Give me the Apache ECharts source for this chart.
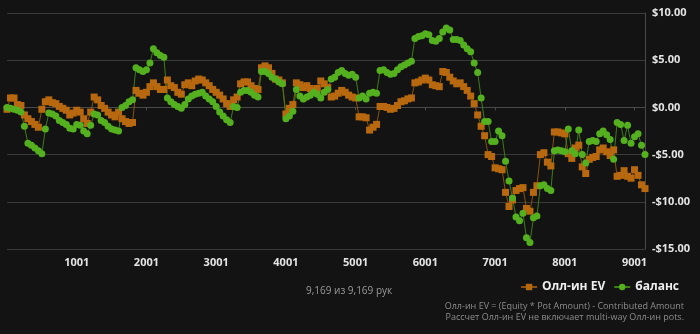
<!DOCTYPE html>
<html>
<head>
<meta charset="utf-8">
<script src="https://cdn.jsdelivr.net/npm/echarts@6/dist/echarts.min.js"></script>
<style>
  html, body { margin: 0; padding: 0; background: #131313; }
  #chart { width: 700px; height: 334px; }
</style>
</head>
<body>
<div id="chart"></div>
<script>
// Hands are sampled every 50 hands, starting at hand 1
const HAND_STEP = 50;
const TOTAL_HANDS = 9169;

// All-in adjusted EV, dollars
const allInEv = [
  -0.2, 1.0, 1.0, 0.3, 0.2, -0.8, -1.2, -1.5, -1.8, -2.1,
  -0.2, 0.6, 0.8, 0.5, 0.4, 0.1, -0.1, -0.3, -0.8, -0.6,
  -0.3, -0.5, -1.2, -1.7, -0.5, 1.1, 0.8, 0.2, -0.1, -0.5,
  -0.8, -1.0, -0.5, -1.2, -1.5, -1.7, -1.6, 1.8, 1.5, 1.3,
  1.6, 2.2, 2.6, 2.2, 1.9, 1.9, 2.9, 2.3, 2.1, 1.6,
  1.4, 2.4, 2.6, 2.3, 2.8, 3.0, 2.9, 2.6, 2.3, 1.9,
  1.6, 1.3, 0.9, 0.4, 0.1, 0.8, 1.1, 2.5, 2.7, 2.7,
  2.3, 2.0, 1.9, 4.2, 4.4, 4.2, 3.6, 3.0, 2.9, 2.6,
  -0.7, -0.1, 0.3, 2.6, 2.4, 2.1, 2.3, 2.0, 1.8, 2.0,
  2.8, 2.5, 2.1, 1.1, 1.2, 1.5, 1.8, 1.6, 1.3, 1.1,
  1.0, -1.0, -1.0, -1.1, -2.4, -2.1, -1.8, 0.1, 0.1, 0.0,
  -0.2, -0.1, 0.2, 0.6, 0.7, 0.9, 1.0, 2.6, 2.7, 2.9,
  3.1, 2.9, 2.4, 2.3, 2.2, 3.8, 3.7, 3.2, 2.8, 2.5,
  2.6, 2.2, 1.8, 1.2, 0.4, -0.8, -2.0, -3.0, -5.0, -5.2,
  -6.4, -6.5, -6.6, -9.0, -10.5, -9.8, -8.8, -8.6, -8.5, -10.7,
  -11.0, -9.0, -8.3, -5.0, -4.8, -5.8, -6.2, -2.6, -2.6, -2.7,
  -2.8, -4.9, -5.4, -4.3, -4.0, -6.3, -7.0, -5.5, -5.3, -5.2,
  -4.5, -4.3, -4.7, -5.1, -4.5, -7.3, -7.2, -6.7, -7.3, -7.5,
  -6.6, -7.2, -8.2, -8.6
];

// Actual balance, dollars
const balance = [
  0.0, -0.1, -0.2, -0.3, -0.5, -2.0, -3.8, -4.0, -4.3, -4.6,
  -4.9, -2.3, -0.6, -0.7, -0.9, -1.4, -1.6, -1.8, -2.2, -2.3,
  -1.8, -1.9, -2.5, -2.8, -1.9, -0.7, -0.8, -1.4, -1.6, -2.0,
  -2.3, -2.4, -2.5, 0.0, 0.2, 0.6, 0.8, 4.2, 4.0, 3.8,
  4.0, 4.7, 6.2, 5.8, 5.5, 5.3, 1.0, 0.6, 0.3, 0.1,
  -0.1, 0.3, 0.9, 1.2, 1.4, 1.5, 1.6, 1.2, 0.9, 0.6,
  0.1, -0.5, -0.9, -1.3, -1.6, 0.1, 0.0, 1.6, 1.8, 1.8,
  1.6, 1.3, 1.1, 3.8, 3.8, 3.6, 3.2, 3.0, 2.7, 2.5,
  -1.2, -0.9, -0.4, 1.9, 1.2, 0.9, 1.1, 1.3, 1.6, 1.4,
  1.0, 1.6, 1.9, 3.0, 3.2, 3.7, 3.9, 3.6, 3.4, 3.5,
  3.2, 1.0, 1.2, 0.9, 1.5, 1.6, 1.5, 3.9, 4.0, 3.7,
  3.5, 3.6, 4.0, 4.3, 4.5, 4.7, 4.9, 7.3, 7.5, 7.6,
  7.8, 7.7, 7.1, 7.0, 7.3, 8.0, 8.4, 8.2, 7.2, 7.2,
  7.1, 6.6, 6.2, 5.9, 4.7, 3.7, 1.0, -1.5, -1.5, -3.6,
  -3.6, -2.5, -3.0, -5.7, -7.8, -9.6, -11.6, -12.0, -11.2, -13.8,
  -14.3, -11.7, -11.5, -8.3, -8.2, -8.6, -8.8, -4.6, -4.5, -4.6,
  -4.7, -2.3, -4.6, -4.9, -2.4, -5.0, -5.9, -3.6, -3.5, -3.6,
  -2.8, -2.5, -2.9, -3.4, -5.5, -1.6, -1.8, -3.5, -1.9, -3.8,
  -3.1, -2.8, -4.0, -5.0
];

// Hand numbers for each sample (x categories)
const hands = allInEv.map((_, i) => 1 + i * HAND_STEP);

// Y axis range and step, dollars
const yMin = -15, yMax = 10, yStep = 5;

const seriesNames = ['Олл-ин EV', 'баланс'];
const footerLines = [
  'Олл-ин EV = (Equity * Pot Amount) - Contributed Amount',
  'Рассчет Олл-ин EV не включает multi-way Олл-ин pots.'
];

const FONT = '"Open Sans", "Noto Sans", sans-serif';
const isThousandTick = (idx, v) => { const h = Number(v); return h > 1 && (h - 1) % 1000 === 0; };
const money = v => (v < 0 ? '-$' : '$') + Math.abs(v).toFixed(2);

const chart = echarts.init(document.getElementById('chart'), null, { renderer: 'canvas' });
chart.setOption({
  backgroundColor: '#131313',
  animation: false,
  textStyle: { fontFamily: FONT },
  grid: { left: 7, right: 55, top: 13, bottom: 85, containLabel: false },
  xAxis: {
    type: 'category',
    data: hands,
    boundaryGap: false,
    axisLine: { show: true, lineStyle: { color: '#4a4a4a', width: 1 } },
    axisTick: { show: true, length: 3, interval: isThousandTick, lineStyle: { color: '#4a4a4a' } },
    axisLabel: {
      interval: isThousandTick,
      color: '#e4e4e4', fontSize: 11, fontWeight: 'bold', fontFamily: FONT, margin: 8
    },
    splitLine: { show: false }
  },
  yAxis: {
    type: 'value',
    position: 'right',
    min: yMin, max: yMax, interval: yStep,
    axisLine: { show: true, lineStyle: { color: '#4a4a4a', width: 1 } },
    axisTick: { show: false },
    axisLabel: {
      formatter: money,
      color: '#e4e4e4', fontSize: 11, fontWeight: 'bold', fontFamily: FONT, margin: 7
    },
    splitLine: { show: true, lineStyle: { color: '#3a3a3a', width: 1 } }
  },
  legend: {
    data: seriesNames,
    right: 16, top: 276,
    itemWidth: 16, itemHeight: 8, itemGap: 8,
    textStyle: { color: '#eeeeee', fontSize: 12, fontWeight: 'bold', fontFamily: FONT }
  },
  series: [
    {
      name: seriesNames[0],
      type: 'line',
      data: allInEv,
      symbol: 'rect',
      symbolSize: 7,
      showAllSymbol: true,
      itemStyle: { color: '#b8680f' },
      lineStyle: { width: 1, color: '#8a520e' }
    },
    {
      name: seriesNames[1],
      type: 'line',
      data: balance,
      symbol: 'circle',
      symbolSize: 7,
      showAllSymbol: true,
      itemStyle: { color: '#54b01f' },
      lineStyle: { width: 1, color: '#3d7d19' }
    }
  ],
  graphic: [
    {
      type: 'text', left: 306, top: 286,
      style: {
        text: TOTAL_HANDS.toLocaleString('en-US') + ' из ' + TOTAL_HANDS.toLocaleString('en-US') + ' рук',
        fill: '#9a9a9a', font: '10px ' + FONT
      }
    },
    {
      type: 'text', right: 16, top: 302,
      style: { text: footerLines[0], fill: '#8c8c8c', font: '9px ' + FONT }
    },
    {
      type: 'text', right: 16, top: 313,
      style: { text: footerLines[1], fill: '#8c8c8c', font: '9px ' + FONT }
    }
  ]
});
</script>
</body>
</html>
